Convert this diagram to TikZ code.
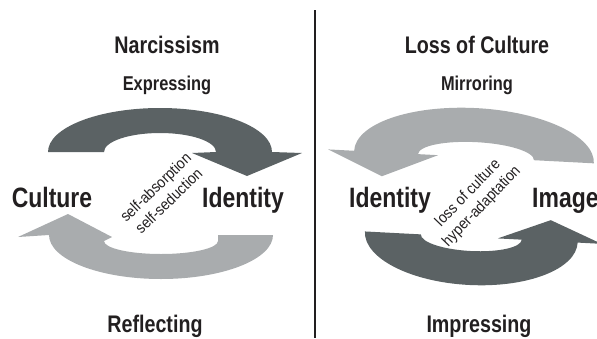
\documentclass[tikz,border=0pt]{standalone}
\usepackage{xcolor}
\usepackage{fontspec}
\setmainfont{Liberation Sans}[FakeStretch=0.82]
\newfontfamily\slimsans{Liberation Sans}[FakeStretch=0.9]
\usetikzlibrary{positioning}
\definecolor{darkband}{RGB}{91,98,100}
\definecolor{lightband}{RGB}{169,172,174}
\definecolor{inktext}{RGB}{34,31,32}

\begin{document}
\begin{tikzpicture}[x=1pt, y=1pt,
    title/.style={font=\bfseries\fontsize{24}{24}\selectfont, text=inktext, anchor=base, inner sep=0pt},
    mode/.style={font=\bfseries\fontsize{20}{20}\selectfont, text=inktext, anchor=base, inner sep=0pt},
    pole/.style={font=\bfseries\fontsize{28}{28}\selectfont, text=inktext, anchor=base, inner sep=0pt},
    slant/.style={font=\slimsans\fontsize{15.5}{19}\selectfont, text=inktext, align=center, inner sep=0pt}]
    \useasboundingbox (0,0) rectangle (597,-338);

    % Separation
    \coordinate (divtop) at (315,-10);
    \coordinate (divbot) at (315,-338);
    \draw[line width=1.2pt, inktext] (divtop) -- (divbot);

    % Left cycle: Culture / Identity
    \fill[darkband] (48,-152) arc[start angle=180, end angle=0, x radius=112, y radius=44]
        -- (302,-153) -- (247,-176) -- (192,-153) -- (216,-152)
        arc[start angle=0, end angle=180, x radius=56, y radius=19] -- cycle;
    \fill[lightband] (273,-235) arc[start angle=0, end angle=-180, x radius=112, y radius=44]
        -- (18,-237) -- (68,-214) -- (112,-237) -- (104,-241)
        arc[start angle=180, end angle=360, x radius=57, y radius=13] -- (218,-235) -- cycle;

    \node[title] (narc) at (167,-53) {Narcissism};
    \node[mode] (expr) at (167,-90) {Expressing};
    \node[pole] (cult) at (52,-207) {Culture};
    \node[pole] (idl) at (243,-207) {Identity};
    \node[title] (refl) at (155,-332) {Reflecting};
    \node[slant, rotate=44] (selfl) at (162,-194) {self-absorption\\self-seduction};

    % Right cycle: Identity / Image
    \begin{scope}[rotate around={-3:(472,-195)}]
        \fill[lightband] (592,-157) arc[start angle=0, end angle=180, x radius=120, y radius=49]
            -- (326,-157) -- (381,-181) -- (436,-157) -- (416,-157)
            arc[start angle=180, end angle=0, x radius=58, y radius=15] -- cycle;
        \fill[darkband] (367,-237) arc[start angle=180, end angle=360, x radius=106.5, y radius=48]
            -- (604,-237) -- (552,-216) -- (500,-237) -- (524,-237)
            arc[start angle=0, end angle=-180, x radius=50.5, y radius=14] -- cycle;
    \end{scope}

    \node[title] (loss) at (477,-53) {Loss of Culture};
    \node[mode] (mirr) at (477,-90) {Mirroring};
    \node[pole] (idr) at (390,-207) {Identity};
    \node[pole, anchor=base west] (img) at (532,-207) {Image};
    \node[title] (impr) at (479,-332) {Impressing};
    \node[slant, rotate=46] (lossr) at (475,-200) {loss of culture\\hyper-adaptation};
\end{tikzpicture}
\end{document}
